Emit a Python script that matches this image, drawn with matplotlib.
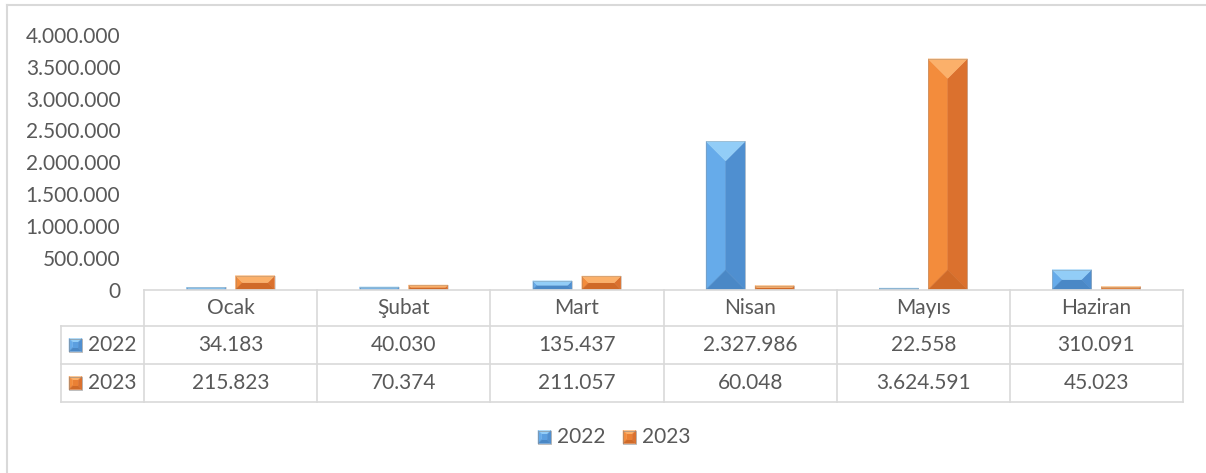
import matplotlib.pyplot as plt
from matplotlib.patches import Polygon, Rectangle
from matplotlib.lines import Line2D

# data
months = ["Ocak", "Şubat", "Mart", "Nisan", "Mayıs", "Haziran"]
series_names = ["2022", "2023"]
values_2022 = [34183, 40030, 135437, 2327986, 22558, 310091]
values_2023 = [215823, 70374, 211057, 60048, 3624591, 45023]
yticks = [0, 500000, 1000000, 1500000, 2000000, 2500000, 3000000, 3500000, 4000000]

# bevel shades: top, left, right, bottom, face
blue_shades = ["#92CDF7", "#66ABEA", "#4F8FD0", "#4A88C6", "#5B9FE0"]
orange_shades = ["#FBB06A", "#F38C3C", "#DB712E", "#D06A28", "#EA8034"]

W, H = 1206, 473
plt.rcParams['font.family'] = ['Lato', 'DejaVu Sans']
text_color = "#595959"
line_color = "#D9D9D9"
fs = 15

fig = plt.figure(figsize=(W / 100, H / 100), dpi=100)


def fx(x):
    return x / W


def fy(y):
    return 1 - y / H


ax_left, ax_right, ax_top, ax_bottom = 144, 1183, 35, 289.5
ax = fig.add_axes([fx(ax_left), fy(ax_bottom), fx(ax_right - ax_left), (ax_bottom - ax_top) / H])
ax.set_xlim(-0.5, len(months) - 0.5)
ax.set_ylim(0, 4000000)
for s in ax.spines.values():
    s.set_visible(False)
ax.set_xticks([])
ax.set_yticks(yticks)
ax.set_yticklabels([f"{v:,}".replace(",", ".") for v in yticks], fontsize=fs, color=text_color)
ax.tick_params(axis="y", length=0, pad=17)

# pixel -> data scale
cat_px = (ax_right - ax_left) / len(months)
x_per_px = 1 / cat_px
y_per_px = 4000000 / (ax_bottom - ax_top)
bar_w = 39 * x_per_px
offset = 24.5 * x_per_px


def bevel_bar(xc, h, shades):
    w_px = 39
    h_px = h / y_per_px
    b = min(w_px, h_px) / 2
    bx = b * x_per_px
    by = b * y_per_px
    x0, x1 = xc - bar_w / 2, xc + bar_w / 2
    y0, y1 = 0, h
    top = [(x0, y1), (x1, y1), (x1 - bx, y1 - by), (x0 + bx, y1 - by)]
    left = [(x0, y0), (x0, y1), (x0 + bx, y1 - by), (x0 + bx, y0 + by)]
    right = [(x1, y0), (x1, y1), (x1 - bx, y1 - by), (x1 - bx, y0 + by)]
    bottom = [(x0, y0), (x1, y0), (x1 - bx, y0 + by), (x0 + bx, y0 + by)]
    for poly, c in zip([left, right, bottom, top], [shades[1], shades[2], shades[3], shades[0]]):
        ax.add_patch(Polygon(poly, closed=True, facecolor=c, edgecolor=c, linewidth=0.3))
    if x1 - bx > x0 + bx and y1 - by > y0 + by:
        ax.add_patch(Rectangle((x0 + bx, y0 + by), (x1 - bx) - (x0 + bx), (y1 - by) - (y0 + by),
                               facecolor=shades[4], edgecolor="none"))
    ax.add_patch(Rectangle((x0, y0), bar_w, h, facecolor="none", edgecolor="#7F7F7F", linewidth=0.4, alpha=0.5))


for i in range(len(months)):
    bevel_bar(i - offset, values_2022[i], blue_shades)
    bevel_bar(i + offset, values_2023[i], orange_shades)


# outer frame
def fline(x0, y0, x1, y1, lw=1.2, color=line_color):
    fig.add_artist(Line2D([fx(x0), fx(x1)], [fy(y0), fy(y1)], color=color, linewidth=lw))


fline(7, 5, W, 5, lw=1.5)
fline(7, 5, 7, H, lw=1.5)

# data table
col_edges = [ax_left + i * cat_px for i in range(len(months) + 1)]
row_edges = [289.5, 326, 364, 402]
label_left = 61
fline(ax_left, row_edges[0], ax_right, row_edges[0])
for r in row_edges[1:]:
    fline(label_left, r, ax_right, r)
for c in col_edges:
    fline(c, row_edges[0], c, row_edges[-1])
fline(label_left, row_edges[1], label_left, row_edges[-1])

for i, m in enumerate(months):
    xc = (col_edges[i] + col_edges[i + 1]) / 2
    fig.text(fx(xc), fy((row_edges[0] + row_edges[1]) / 2), m, ha="center", va="center",
             fontsize=fs, color=text_color)
    for r, vals in enumerate([values_2022, values_2023]):
        yc = (row_edges[r + 1] + row_edges[r + 2]) / 2
        fig.text(fx(xc), fy(yc), f"{vals[i]:,}".replace(",", "."), ha="center", va="center",
                 fontsize=fs, color=text_color)


def legend_icon(x, y, shades, size=13):
    # small bevelled square in figure pixel coordinates
    x0, x1, y0, y1 = x, x + size, y - size / 2, y + size / 2
    b = size / 2 * 0.6
    polys = [
        ([(x0, y0), (x1, y0), (x1 - b, y0 + b), (x0 + b, y0 + b)], shades[0]),
        ([(x0, y0), (x0, y1), (x0 + b, y1 - b), (x0 + b, y0 + b)], shades[1]),
        ([(x1, y0), (x1, y1), (x1 - b, y1 - b), (x1 - b, y0 + b)], shades[2]),
        ([(x0, y1), (x1, y1), (x1 - b, y1 - b), (x0 + b, y1 - b)], shades[3]),
    ]
    for p, c in polys:
        fig.add_artist(Polygon([(fx(a), fy(b_)) for a, b_ in p], closed=True, facecolor=c,
                               edgecolor=c, linewidth=0.3, transform=fig.transFigure))
    fig.add_artist(Rectangle((fx(x0 + b), fy(y1 - b)), fx(size - 2 * b), (size - 2 * b) / H,
                             facecolor=shades[4], edgecolor="none", transform=fig.transFigure))
    fig.add_artist(Rectangle((fx(x0), fy(y1)), fx(size), size / H, facecolor="none",
                             edgecolor="#8C8C8C", linewidth=0.4, transform=fig.transFigure))


for r, (name, shades) in enumerate(zip(series_names, [blue_shades, orange_shades])):
    yc = (row_edges[r + 1] + row_edges[r + 2]) / 2
    legend_icon(69, yc, shades)
    fig.text(fx(88), fy(yc), name, ha="left", va="center", fontsize=fs, color=text_color)

# legend at the bottom
leg_y = 437
for x_icon, name, shades in zip([538, 623], series_names, [blue_shades, orange_shades]):
    legend_icon(x_icon, leg_y, shades)
    fig.text(fx(x_icon + 19), fy(leg_y), name, ha="left", va="center", fontsize=fs, color=text_color)

fig.savefig("out.png", dpi=100)
